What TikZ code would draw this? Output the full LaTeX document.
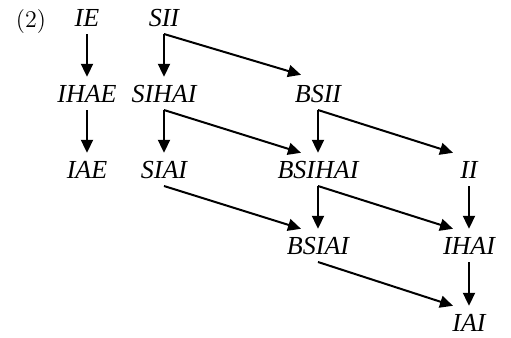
\documentclass[tikz,border=0pt]{standalone}
\usepackage{fontspec}
\usepackage{tikz}
\usetikzlibrary{arrows.meta}
\newfontfamily\termfont{Liberation Serif}

\begin{document}
\begin{tikzpicture}[x=0.5pt, y=-0.5pt, line width=1pt,
	term/.style={anchor=base, inner xsep=1pt, inner ysep=3.5pt, text height=8.6pt, text depth=0pt,
		font=\termfont\itshape\fontsize{13}{15}\selectfont},
	arr/.style={-{Triangle[length=6.5pt,width=6pt]}}]
						\useasboundingbox (0,0) rectangle (511,338);
						\node[anchor=base, font=\fontsize{12}{14}\selectfont] (num) at (31,27) {(2)};
						% column one
						\node[term] (ie) at (87,26) {IE};
						\node[term] (ihae) at (87,102) {IHAE};
						\node[term] (iae) at (87,178) {IAE};
						% column two
						\node[term] (sii) at (164,26) {SII};
						\node[term] (sihai) at (164,102) {SIHAI};
						\node[term] (siai) at (164,178) {SIAI};
						% column three
						\node[term] (bsii) at (318,102) {BSII};
						\node[term] (bsihai) at (318,178) {BSIHAI};
						\node[term] (bsiai) at (318,254) {BSIAI};
						% column four
						\node[term] (ii) at (469,178) {II};
						\node[term] (ihai) at (469,254) {IHAI};
						\node[term] (iai) at (469,331) {IAI};
						% arrows
						\draw[arr] (ie.south) -- (ihae.north);
						\draw[arr] (ihae.south) -- (iae.north);
						\draw[arr] (sii.south) -- (sihai.north);
						\draw[arr] (sii.south) -- ([xshift=-8.5pt,yshift=1pt]bsii.north);
						\draw[arr] (sihai.south) -- (siai.north);
						\draw[arr] (sihai.south) -- ([xshift=-8.5pt]bsihai.north);
						\draw[arr] (siai.south) -- ([xshift=-8.5pt]bsiai.north);
						\draw[arr] (bsii.south) -- (bsihai.north);
						\draw[arr] (bsii.south) -- ([xshift=-8pt]ii.north);
						\draw[arr] (bsihai.south) -- (bsiai.north);
						\draw[arr] (bsihai.south) -- ([xshift=-8pt]ihai.north);
						\draw[arr] (bsiai.south) -- ([xshift=-8pt]iai.north);
						\draw[arr] (ii.south) -- (ihai.north);
						\draw[arr] (ihai.south) -- (iai.north);
					\end{tikzpicture}
\end{document}
